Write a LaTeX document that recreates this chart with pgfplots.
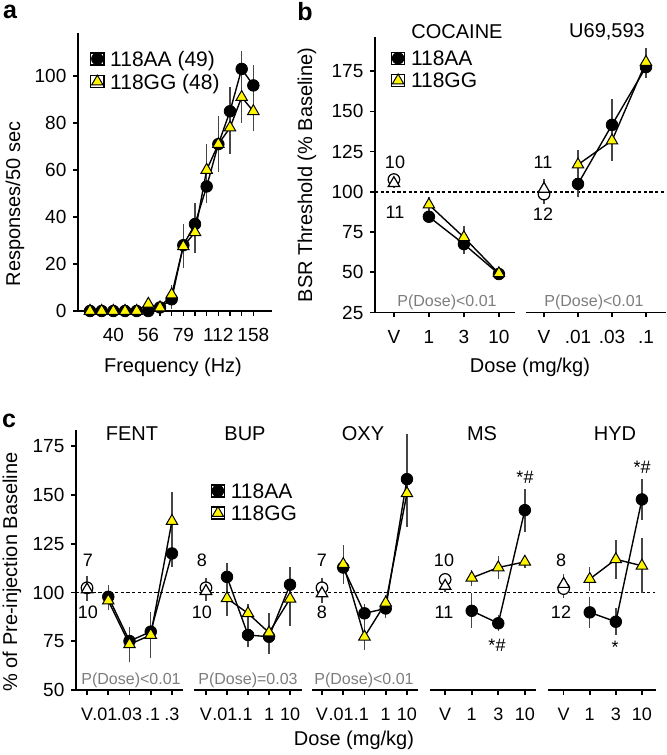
\documentclass[border=0pt]{standalone}
\usepackage{fontspec}
\setmainfont{Liberation Sans}
\usepackage{pgfplots}
\usepackage{pgfplotstable}
\pgfplotsset{compat=1.18}
\definecolor{yel}{RGB}{255,245,0}
\definecolor{ebar}{RGB}{70,70,70}
\definecolor{ptxt}{RGB}{125,125,125}
\newcommand{\fs}[1]{\fontsize{#1}{#1}\selectfont}

% panel a: frequency index, AA, errAA, GG, errGG
\pgfplotstableread{
x aa ea gg eg
1 0 0 0 0
2 0 0 0 0
3 0 0 0 0
4 0 0 0 0
5 0 0 0 0
6 0 0 3 1
7 1.5 1 1.5 1
8 5 4 7 4
9 28 9 27.5 9
10 37 9 33.5 9
11 53 7 60 11
12 71 12 71 12
13 85 10.5 78 11
14 103 7.5 91 11
15 96 8.5 85 8.5
}\tA
% panel b
\pgfplotstableread{
x aa ea gg eg
1 84.5 4 92 5
2 67.5 6 71.7 7
3 48.9 3 49.3 3
}\tBc
\pgfplotstableread{
x aa ea gg eg
1 104.9 8 116.9 9
2 141.6 16 131.8 12.5
3 177.5 7 180.6 9
}\tBu
% panel c
\pgfplotstableread{
x aa ea gg eg
1 97.8 6 95.8 5
2 75.1 7 73.4 9
3 79.9 10 78.2 12
4 120 7 136.6 15
}\tF
\pgfplotstableread{
x aa ea gg eg
1 108 7 97 9
2 78.2 6 89.3 5
3 77.3 9 79.4 10
4 104 9 96.8 14
}\tB
\pgfplotstableread{
x aa ea gg eg
1 112.8 8 114.5 10
2 89.3 5 77.3 7
3 91.8 5 94.7 4
4 158.1 23 150.8 17
}\tO
\pgfplotstableread{
x aa ea gg eg
1 90.6 9 107.5 4
2 84.2 4 112.8 6
3 142.2 11 115.7 3
}\tM
\pgfplotstableread{
x aa ea gg eg
1 89.8 8 106.9 6
2 85 7 117 10
3 147.7 10.5 113.7 14
}\tH

\pgfplotsset{
  base/.style={scale only axis, clip=false, anchor=south west,
    axis x line*=bottom, axis y line*=left,
    axis line style={line width=0.9pt, -},
    every tick/.style={black, line width=0.8pt},
    tick align=outside, major tick length=2.3pt,
    tick label style={font=\fs{9.5}},
    xticklabel style={yshift=-3pt},
    /pgf/number format/assume math mode=true,
    legend cell align=left,
    legend style={draw=none, fill=none, font=\fs{10.5}, inner sep=0pt, row sep=2.6pt,
      nodes={inner sep=0.6pt, text depth=0pt},
      /tikz/every odd column/.append style={column sep=2.2pt}},
  },
  cfont/.style={tick label style={font=\fs{9}}},
  hidey/.style={axis y line=none},
  AA/.style={black, line width=0.7pt, mark=*, mark size=2.9pt,
    mark options={solid, fill=black, draw=black, line width=0.4pt}},
  GG/.style={black, line width=0.7pt, mark=triangle*, mark size=3.3pt,
    mark options={solid, fill=yel, draw=black, line width=0.5pt}},
  VA/.style={only marks, mark=*, mark size=2.9pt,
    mark options={fill=white, draw=black, line width=0.6pt}},
  VG/.style={only marks, mark=triangle*, mark size=3.3pt,
    mark options={fill=white, draw=black, line width=0.6pt}},
  eb/.style={error bars/.cd, y dir=both, y explicit, error mark=none,
    error bar style={draw=ebar, line width=0.7pt, solid}},
  legend image code/.code={\draw[#1] plot coordinates {(3.3pt,0pt)};
    \path (0pt,-3pt) rectangle (6.6pt,3pt);},
}
\newcommand{\ebars}[1]{%
  \addplot[forget plot, draw=none, mark=none, eb] table[x=x,y=aa,y error=ea]{#1};
  \addplot[forget plot, draw=none, mark=none, eb] table[x=x,y=gg,y error=eg]{#1};}
\newcommand{\dashline}[2]{\draw[black, line width=0.8pt, dash pattern=on 1.6pt off 1.2pt] (axis cs:#1,100) -- (axis cs:#2,100);}

\begin{document}
\begin{tikzpicture}
\useasboundingbox (0,0) rectangle (333.5pt,377.5pt);

%% ---------------- panel a
\begin{axis}[base, at={(39pt,222pt)}, width=97pt, height=139pt,
  xmin=-0.03, xmax=16.6, ymin=0, ymax=118.3,
  xtick={1,...,15}, xticklabels={,,40,,,56,,,79,,,112,,,158},
  ytick={0,20,40,60,80,100},
  legend style={at={(rel axis cs:0.06,0.94)}, anchor=north west}]
\ebars{\tA}
\addplot[AA] table[x=x,y=aa]{\tA}; \addlegendentry{118AA (49)}
\addplot[GG] table[x=x,y=gg]{\tA}; \addlegendentry{118GG (48)}
\end{axis}

%% ---------------- panel b, cocaine
\begin{axis}[base, at={(187.5pt,221.25pt)}, width=70pt, height=137.75pt,
  xmin=-0.54, xmax=3.46, ymin=25, ymax=196.2,
  xtick={0,1,2,3}, xticklabels={V,1,3,10},
  ytick={25,50,75,100,125,150,175},
  legend style={at={(rel axis cs:0.11,0.955)}, anchor=north west}]
\dashline{-0.54}{7.77}
\ebars{\tBc}
\addplot[AA] table[x=x,y=aa]{\tBc}; \addlegendentry{118AA}
\addplot[GG] table[x=x,y=gg]{\tBc}; \addlegendentry{118GG}
\addplot[VA, forget plot, eb] coordinates {(0,107.6) +- (0,3)};
\addplot[VG, forget plot, eb] coordinates {(0,105.3) +- (0,3)};
\end{axis}
%% panel b, U69,593
\begin{axis}[base, hidey, at={(263pt,221.25pt)}, width=70pt, height=137.75pt,
  xmin=-0.53, xmax=3.59, ymin=25, ymax=196.2,
  xtick={0,1,2,3}, xticklabels={V,.01,.03,.1}]
\ebars{\tBu}
\addplot[VA, forget plot, eb] coordinates {(0,98.6) +- (0,6)};
\addplot[VG, forget plot, eb] coordinates {(0,101.8) +- (0,6)};
\addplot[AA] table[x=x,y=aa]{\tBu};
\addplot[GG] table[x=x,y=gg]{\tBu};
\end{axis}

%% ---------------- panel c
\begin{axis}[base, cfont, at={(38pt,32.5pt)}, width=53.5pt, height=130pt,
  xmin=-0.52, xmax=4.52, ymin=50, ymax=183.3,
  xtick={0,1,2,3,4}, xticklabels={V,{\kern-3.5pt.01},.03,{\kern2pt.1},.3},
  ytick={50,75,100,125,150,175}, yticklabel style={font=\fs{9.5}}]
\dashline{-0.52}{26.77}
\ebars{\tF}
\addplot[VA, eb] coordinates {(0,102.4) +- (0,6)};
\addplot[VG, eb] coordinates {(0,101.5) +- (0,6)};
\addplot[AA] table[x=x,y=aa]{\tF};
\addplot[GG] table[x=x,y=gg]{\tF};
\end{axis}
\begin{axis}[base, cfont, hidey, at={(97pt,32.5pt)}, width=54pt, height=130pt,
  xmin=-0.57, xmax=4.57, ymin=50, ymax=183.3,
  xtick={0,1,2,3,4}, xticklabels={V,{\kern-2pt.01},{\kern-3pt.1},1,10},
  legend style={at={(rel axis cs:0.15,0.8)}, anchor=north west}]
\ebars{\tB}
\addplot[AA] table[x=x,y=aa]{\tB}; \addlegendentry{118AA}
\addplot[GG] table[x=x,y=gg]{\tB}; \addlegendentry{118GG}
\addplot[VA, forget plot, eb] coordinates {(0,102.4) +- (0,5)};
\addplot[VG, forget plot, eb] coordinates {(0,100.7) +- (0,5)};
\end{axis}
\begin{axis}[base, cfont, hidey, at={(156pt,32.5pt)}, width=53pt, height=130pt,
  xmin=-0.47, xmax=4.52, ymin=50, ymax=183.3,
  xtick={0,1,2,3,4}, xticklabels={V,{\kern-2pt.01},{\kern-3pt.1},1,10}]
\ebars{\tO}
\addplot[VA, eb] coordinates {(0,102.4) +- (0,5)};
\addplot[VG, eb] coordinates {(0,99.5) +- (0,5)};
\addplot[AA] table[x=x,y=aa]{\tO};
\addplot[GG] table[x=x,y=gg]{\tO};
\end{axis}
\begin{axis}[base, cfont, hidey, at={(215pt,32.5pt)}, width=53pt, height=130pt,
  xmin=-0.57, xmax=3.42, ymin=50, ymax=183.3,
  xtick={0,1,2,3}, xticklabels={V,1,3,10}]
\ebars{\tM}
\addplot[VA, eb] coordinates {(0,106.7) +- (0,3)};
\addplot[VG, eb] coordinates {(0,103.3) +- (0,3)};
\addplot[AA] table[x=x,y=aa]{\tM};
\addplot[GG] table[x=x,y=gg]{\tM};
\end{axis}
\begin{axis}[base, cfont, hidey, at={(274pt,32.5pt)}, width=54pt, height=130pt,
  xmin=-0.6, xmax=3.54, ymin=50, ymax=183.3,
  xtick={0,1,2,3}, xticklabels={V,1,3,10}]
\ebars{\tH}
\addplot[VA, eb] coordinates {(0,102) +- (0,5)};
\addplot[VG, eb] coordinates {(0,104.3) +- (0,5)};
\addplot[AA] table[x=x,y=aa]{\tH};
\addplot[GG] table[x=x,y=gg]{\tH};
\end{axis}

%% ---------------- texts
\begin{scope}[every node/.style={inner sep=0pt}]
\node[font=\fs{12.5}\bfseries] at (5pt,371.5pt) {a};
\node[font=\fs{12.5}\bfseries] at (152.5pt,371.5pt) {b};
\node[font=\fs{12.5}\bfseries] at (4.5pt,167pt) {c};
\node[font=\fs{10}, rotate=90] at (7.5pt,275.5pt) {Responses/50 sec};
\node[font=\fs{10}] at (86.5pt,194pt) {Frequency (Hz)};
\node[font=\fs{10}, rotate=90] at (153.5pt,290pt) {BSR Threshold (\% Baseline)};
\node[font=\fs{10}] at (265pt,194pt) {Dose (mg/kg)};
\node[font=\fs{10}] at (228.5pt,361.5pt) {COCAINE};
\node[font=\fs{10}] at (303.5pt,361.5pt) {U69,593};
\node[font=\fs{8}, text=ptxt] at (223.5pt,226.5pt) {P(Dose)<0.01};
\node[font=\fs{8}, text=ptxt] at (297pt,226.5pt) {P(Dose)<0.01};
\node[font=\fs{9}] at (197.5pt,296.5pt) {10};
\node[font=\fs{9}] at (197.5pt,271.5pt) {11};
\node[font=\fs{9}] at (271.5pt,296.5pt) {11};
\node[font=\fs{9}] at (271.5pt,270.5pt) {12};
\node[font=\fs{10}, rotate=90] at (6pt,91.5pt) {\% of Pre-injection Baseline};
\node[font=\fs{10}] at (177pt,7.5pt) {Dose (mg/kg)};
\node[font=\fs{10}] at (66pt,160.5pt) {FENT};
\node[font=\fs{10}] at (122.5pt,160.5pt) {BUP};
\node[font=\fs{10}] at (181.5pt,160.5pt) {OXY};
\node[font=\fs{10}] at (241pt,160.5pt) {MS};
\node[font=\fs{10}] at (307.5pt,160.5pt) {HYD};
\node[font=\fs{8}, text=ptxt] at (65.5pt,37.5pt) {P(Dose)<0.01};
\node[font=\fs{8}, text=ptxt] at (124pt,37.5pt) {P(Dose)=0.03};
\node[font=\fs{8}, text=ptxt] at (182pt,37.5pt) {P(Dose)<0.01};
\node[font=\fs{9}] at (44pt,97.5pt) {7};
\node[font=\fs{9}] at (44pt,71.5pt) {10};
\node[font=\fs{9}] at (101pt,97.5pt) {8};
\node[font=\fs{9}] at (101pt,71.5pt) {10};
\node[font=\fs{9}] at (161pt,97.5pt) {7};
\node[font=\fs{9}] at (161pt,71.5pt) {8};
\node[font=\fs{9}] at (222pt,97.5pt) {10};
\node[font=\fs{9}] at (222pt,71.5pt) {11};
\node[font=\fs{9}] at (280.5pt,97.5pt) {8};
\node[font=\fs{9}] at (280.5pt,71.5pt) {12};
\node[font=\fs{9}] at (262.5pt,139pt) {*\#};
\node[font=\fs{9}] at (248.5pt,55pt) {*\#};
\node[font=\fs{9}] at (321pt,144pt) {*\#};
\node[font=\fs{9}] at (307.5pt,54pt) {*};
\end{scope}
\end{tikzpicture}
\end{document}
